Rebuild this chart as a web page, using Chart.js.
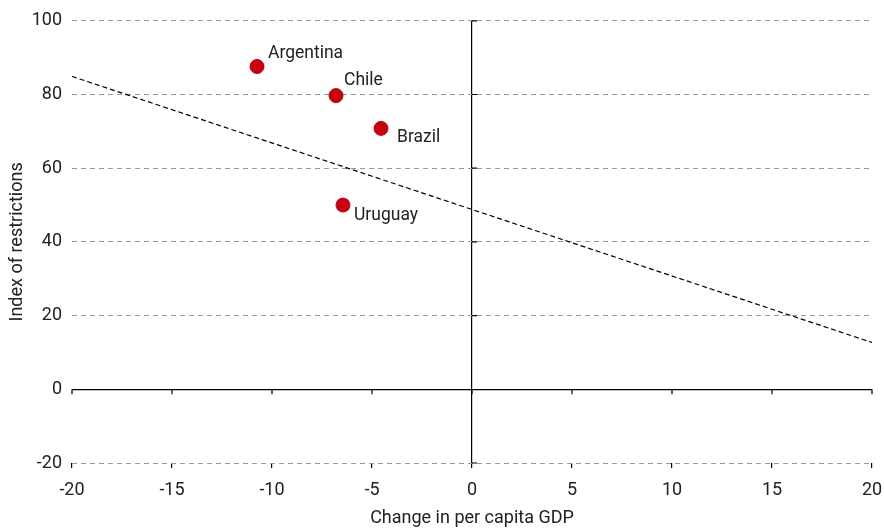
<!DOCTYPE html>
<html>
<head>
<meta charset="utf-8">
<script src="https://cdn.jsdelivr.net/npm/chart.js@4.4.0/dist/chart.umd.min.js"></script>
<style>
  html, body { margin: 0; padding: 0; background: #fff; }
  #wrap { width: 884px; height: 529px; }
</style>
</head>
<body>
<div id="wrap"><canvas id="scatterChart"></canvas></div>
<script>
const countries = ['Argentina', 'Chile', 'Brazil', 'Uruguay'];
const gdpChange = [-10.75, -6.8, -4.55, -6.45];
const restrictions = [87.6, 79.7, 70.8, 50.0];
const trendX = [-20, 20];
const trendY = [84.9, 12.7];

const FONT = "'Liberation Sans Narrow', 'Roboto', sans-serif";

// where each label sits relative to its dot
const labelOffset = {
    'Argentina': [11, -13],
    'Chile': [8, -15],
    'Brazil': [16, 9],
    'Uruguay': [11, 11]
};

const pointLabels = {
    id: 'pointLabels',
    afterDatasetsDraw(chart) {
        const ctx = chart.ctx;
        const meta = chart.getDatasetMeta(1);
        ctx.save();
        ctx.font = '17.5px ' + FONT;
        ctx.fillStyle = '#222';
        ctx.textBaseline = 'middle';
        ctx.textAlign = 'left';
        meta.data.forEach((pt, i) => {
            const off = labelOffset[countries[i]];
            ctx.fillText(countries[i], pt.x + off[0], pt.y + off[1]);
        });
        ctx.restore();
    }
};

// small tick marks on the zero lines
const zeroTicks = {
    id: 'zeroTicks',
    beforeDatasetsDraw(chart) {
        const ctx = chart.ctx;
        const xs = chart.scales.x, ys = chart.scales.y;
        const x0 = xs.getPixelForValue(0), y0 = ys.getPixelForValue(0);
        ctx.save();
        ctx.strokeStyle = '#000';
        ctx.lineWidth = 1.2;
        ctx.beginPath();
        xs.ticks.forEach(t => {
            const px = xs.getPixelForValue(t.value);
            ctx.moveTo(px, y0);
            ctx.lineTo(px, y0 + 5);
        });
        ys.ticks.forEach(t => {
            if (t.value === 0) return;
            const py = ys.getPixelForValue(t.value);
            ctx.moveTo(x0, py);
            ctx.lineTo(x0 + 5, py);
        });
        ctx.stroke();
        ctx.restore();
    }
};

const ctx = document.getElementById('scatterChart').getContext('2d');
const chart = new Chart(ctx, {
    type: 'scatter',
    data: {
        datasets: [{
            type: 'line',
            label: 'Trend',
            data: trendX.map((x, i) => ({ x: x, y: trendY[i] })),
            borderColor: '#000',
            borderWidth: 1.2,
            borderDash: [5, 3],
            pointRadius: 0,
            fill: false
        }, {
            label: 'Countries',
            data: gdpChange.map((x, i) => ({ x: x, y: restrictions[i] })),
            backgroundColor: '#c8000f',
            borderColor: '#c8000f',
            pointRadius: 7,
            pointHoverRadius: 7
        }]
    },
    options: {
        responsive: true,
        maintainAspectRatio: false,
        animation: false,
        layout: { padding: { top: 10, right: 12, left: 7, bottom: 0 } },
        plugins: {
            legend: { display: false },
            tooltip: { enabled: false }
        },
        scales: {
            x: {
                type: 'linear',
                min: -20,
                max: 20,
                afterFit: s => {
                    s.height = 66;
                    s.paddingLeft = 0;
                    s.paddingRight = 0;
                },
                ticks: {
                    stepSize: 5,
                    color: '#222',
                    font: { family: FONT, size: 18 },
                    padding: 12
                },
                grid: {
                    color: c => (c.tick && c.tick.value === 0) ? '#000' : 'rgba(0,0,0,0)',
                    lineWidth: 1.2,
                    tickColor: '#000',
                    tickLength: 5
                },
                border: { display: false },
                title: {
                    display: true,
                    text: 'Change in per capita GDP',
                    color: '#222',
                    font: { family: FONT, size: 18 },
                    padding: { top: 5, bottom: 0 }
                }
            },
            y: {
                min: -20,
                max: 100,
                afterFit: s => { s.width = 65; },
                ticks: {
                    stepSize: 20,
                    color: '#222',
                    font: { family: FONT, size: 18 },
                    padding: 10
                },
                grid: {
                    color: c => (c.tick && c.tick.value === 0) ? '#000' : '#999',
                    lineWidth: c => (c.tick && c.tick.value === 0) ? 1.2 : 1,
                    drawTicks: false
                },
                border: {
                    display: false,
                    dash: c => (c.tick && c.tick.value === 0) ? [] : [5, 4]
                },
                title: {
                    display: true,
                    text: 'Index of restrictions',
                    color: '#222',
                    font: { family: FONT, size: 18 },
                    padding: { top: 0, bottom: 3 }
                }
            }
        }
    },
    plugins: [zeroTicks, pointLabels]
});
</script>
</body>
</html>
